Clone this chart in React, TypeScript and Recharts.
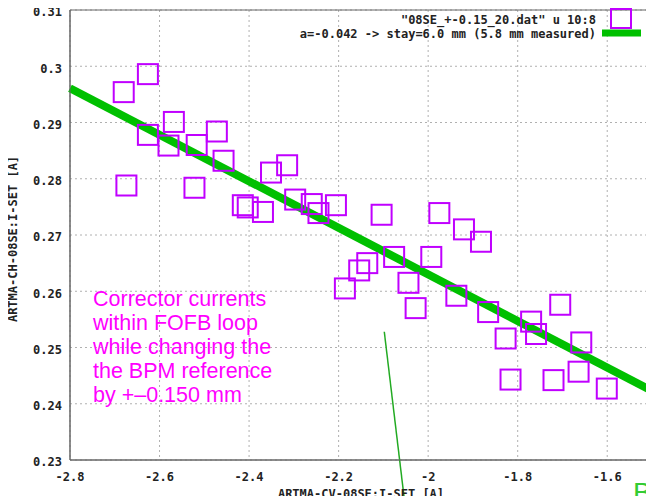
import { ComposedChart, Scatter, XAxis, YAxis, CartesianGrid, ReferenceLine, ReferenceArea } from 'recharts'

// measured corrector currents (x = CV, y = CH)
const xValues = [
  -2.68, -2.626, -2.626, -2.568, -2.58, -2.517, -2.472, -2.457, -2.674, -2.522,
  -2.351, -2.315, -2.414, -2.403, -2.369, -2.297, -2.26, -2.245, -2.206, -2.104,
  -1.975, -1.92, -1.882, -2.136, -2.154, -2.186, -2.076, -1.993, -2.044, -2.028,
  -1.937, -1.866, -1.77, -1.759, -1.705, -1.827, -1.658, -1.816, -1.72, -1.664,
  -1.601,
]
const yValues = [
  0.2954, 0.2986, 0.2878, 0.2901, 0.2859, 0.286, 0.2884, 0.2832, 0.2788, 0.2784,
  0.2811, 0.2824, 0.2753, 0.2749, 0.2741, 0.2763, 0.2755, 0.2739, 0.2753, 0.2736,
  0.2739, 0.271, 0.2688, 0.265, 0.2637, 0.2605, 0.2661, 0.2661, 0.2615, 0.257,
  0.2592, 0.2563, 0.2546, 0.2524, 0.2576, 0.2516, 0.2509, 0.2443, 0.2442, 0.2457,
  0.2427,
]

// linear fit, a = -0.042
const fitX = [-2.8, -1.5]
const fitY = [0.2961, 0.2423]

// thin pointer line from the slide
const pointerX = [-2.098, -2.052]
const pointerY = [0.2528, 0.2222]

const xTicks = [-2.8, -2.6, -2.4, -2.2, -2, -1.8, -1.6]
const yTicks = [0.23, 0.24, 0.25, 0.26, 0.27, 0.28, 0.29, 0.3, 0.31]

const noteLines = [
  'Corrector currents',
  'within FOFB loop',
  'while changing the',
  'the BPM reference',
  'by +\u20130.150 mm',
]

const PURPLE = '#c000ff'
const GREEN = '#00c000'
const MONO = '"DejaVu Sans Mono", monospace'

const points = xValues.map((x, i) => ({ x, y: yValues[i] }))

const Square = (props: any) => {
  const { cx, cy } = props
  if (cx == null || cy == null) return null
  return <rect x={cx - 10} y={cy - 10} width={20} height={20} fill="none" stroke={PURPLE} strokeWidth={2} />
}

const tickStyle = { fontFamily: MONO, fontSize: 12, fontWeight: 'bold', fill: '#222' }

export default function App() {
  return (
    <div style={{ position: 'relative', width: 654, height: 504, margin: -8, overflow: 'hidden', background: '#fff' }}>
      <ComposedChart width={654} height={504} margin={{ top: 10, right: 2, bottom: 0, left: 0 }}>
        <CartesianGrid stroke="#b0b0b0" strokeDasharray="2 3" />
        <XAxis
          type="number"
          dataKey="x"
          domain={[-2.8, -1.5]}
          ticks={xTicks}
          height={44}
          tick={tickStyle}
          tickMargin={6}
          tickLine={false}
          axisLine={{ stroke: '#666' }}
          allowDataOverflow
        />
        <YAxis
          type="number"
          dataKey="y"
          domain={[0.23, 0.31]}
          ticks={yTicks}
          width={70}
          tick={{ ...tickStyle, dy: 2 }}
          tickLine={false}
          axisLine={{ stroke: '#666' }}
          allowDataOverflow
        />
        <ReferenceArea x1={-2.8} x2={-1.5} y1={0.23} y2={0.31} fill="none" stroke="#666" />
        <Scatter data={points} shape={<Square />} isAnimationActive={false} />
        <ReferenceLine
          segment={[{ x: fitX[0], y: fitY[0] }, { x: fitX[1], y: fitY[1] }]}
          stroke={GREEN}
          strokeWidth={8}
        />
        <ReferenceLine
          segment={[{ x: pointerX[0], y: pointerY[0] }, { x: pointerX[1], y: pointerY[1] }]}
          stroke="#22aa22"
          strokeWidth={1.5}
          ifOverflow="visible"
        />
      </ComposedChart>

      {/* legend */}
      <div style={{ position: 'absolute', right: 58, top: 13, textAlign: 'right', fontFamily: MONO, fontSize: 12, fontWeight: 'bold', lineHeight: '14px', color: '#222', whiteSpace: 'pre' }}>
        <div>"08SE_+-0.15_20.dat" u 10:8</div>
        <div>a=-0.042 -&gt; stay=6.0 mm (5.8 mm measured)</div>
      </div>
      <svg style={{ position: 'absolute', left: 600, top: 8, overflow: 'visible' }} width={45} height={30}>
        <rect x={11} y={1} width={20} height={19} fill="none" stroke={PURPLE} strokeWidth={2} />
        <line x1={2} x2={41} y1={25} y2={25} stroke={GREEN} strokeWidth={7} />
      </svg>

      {/* axis titles */}
      <svg style={{ position: 'absolute', left: 0, top: 0 }} width={654} height={504}>
        <text x={13} y={239} transform="rotate(-90 13 239)" textAnchor="middle" dominantBaseline="central" fontFamily={MONO} fontSize={12} fontWeight="bold" fill="#222">
          ARTMA-CH-08SE:I-SET [A]
        </text>
        <text x={361} y={494} textAnchor="middle" dominantBaseline="central" fontFamily={MONO} fontSize={12} fontWeight="bold" fill="#222">
          ARTMA-CV-08SE:I-SET [A]
        </text>
      </svg>

      {/* annotation */}
      <div style={{ position: 'absolute', left: 93, top: 287, fontFamily: '"Liberation Sans", Arial, sans-serif', fontSize: 21.5, lineHeight: '24px', color: '#ff00ff', whiteSpace: 'pre' }}>
        {noteLines.map((l) => (
          <div key={l}>{l}</div>
        ))}
      </div>
      <div style={{ position: 'absolute', left: 633, top: 479, fontFamily: '"Liberation Sans", Arial, sans-serif', fontSize: 28, lineHeight: '28px', color: '#33cc33', whiteSpace: 'pre' }}>
        BPM
      </div>
    </div>
  )
}
